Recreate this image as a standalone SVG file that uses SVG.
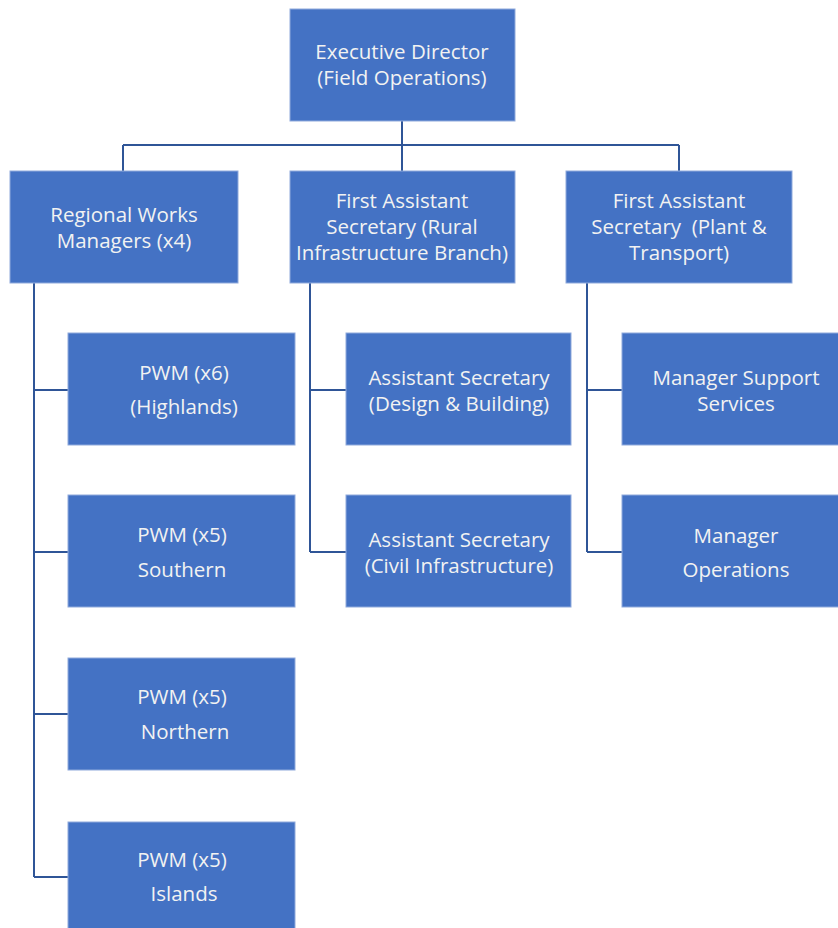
<svg xmlns="http://www.w3.org/2000/svg" width="838" height="928" viewBox="0 0 838 928">
<style>
.box{fill:#4472C4;stroke:#8FAADC;stroke-width:1}
.t{font-family:"Open Sans","Liberation Sans",sans-serif;font-size:20.5px;fill:#F2F2F2;text-anchor:middle}
.c{fill:none;stroke:#2F5597;stroke-width:2}
</style>
<rect width="838" height="928" fill="#FFFFFF"/>
<g id="connectors">
<path class="c" d="M402 121V145M123 145H679M123 145V171M402 145V171M679 145V171"/>
<path class="c" d="M34 283V877M34 390H68M34 552H68M34 714H68M34 877H68"/>
<path class="c" d="M310 283V552M310 390H346M310 552H346"/>
<path class="c" d="M587 283V552M587 390H622M587 552H622"/>
</g>
<g id="exec"><rect class="box" x="290" y="9" width="225" height="112"/><text class="t" x="402" y="59">Executive Director</text><text class="t" x="402" y="85">(Field Operations)</text></g>
<g id="rwm"><rect class="box" x="10" y="171" width="228" height="112"/><text class="t" x="124" y="222">Regional Works</text><text class="t" x="124" y="248">Managers (x4)</text></g>
<g id="fas-rural"><rect class="box" x="290" y="171" width="225" height="112"/><text class="t" x="402" y="208">First Assistant</text><text class="t" x="402" y="234">Secretary (Rural</text><text class="t" x="402" y="260">Infrastructure Branch)</text></g>
<g id="fas-plant"><rect class="box" x="566" y="171" width="226" height="112"/><text class="t" x="679" y="208">First Assistant</text><text class="t" x="679" y="234" xml:space="preserve">Secretary  (Plant &amp;</text><text class="t" x="679" y="260">Transport)</text></g>
<g id="pwm-highlands"><rect class="box" x="68" y="333" width="227" height="112"/><text class="t" x="184" y="380">PWM (x6)</text><text class="t" x="184" y="414">(Highlands)</text></g>
<g id="pwm-southern"><rect class="box" x="68" y="495" width="227" height="112"/><text class="t" x="182" y="542">PWM (x5)</text><text class="t" x="182" y="577">Southern</text></g>
<g id="pwm-northern"><rect class="box" x="68" y="658" width="227" height="112"/><text class="t" x="182" y="704">PWM (x5)</text><text class="t" x="185" y="739">Northern</text></g>
<g id="pwm-islands"><rect class="box" x="68" y="822" width="227" height="112"/><text class="t" x="182" y="867">PWM (x5)</text><text class="t" x="184" y="901">Islands</text></g>
<g id="as-design"><rect class="box" x="346" y="333" width="225" height="112"/><text class="t" x="459" y="385">Assistant Secretary</text><text class="t" x="459" y="411">(Design &amp; Building)</text></g>
<g id="as-civil"><rect class="box" x="346" y="495" width="225" height="112"/><text class="t" x="459" y="547">Assistant Secretary</text><text class="t" x="459" y="573">(Civil Infrastructure)</text></g>
<g id="mss"><rect class="box" x="622" y="333" width="226" height="112"/><text class="t" x="736" y="385">Manager Support</text><text class="t" x="736" y="411">Services</text></g>
<g id="mo"><rect class="box" x="622" y="495" width="226" height="112"/><text class="t" x="736" y="543">Manager</text><text class="t" x="736" y="577">Operations</text></g>
</svg>
